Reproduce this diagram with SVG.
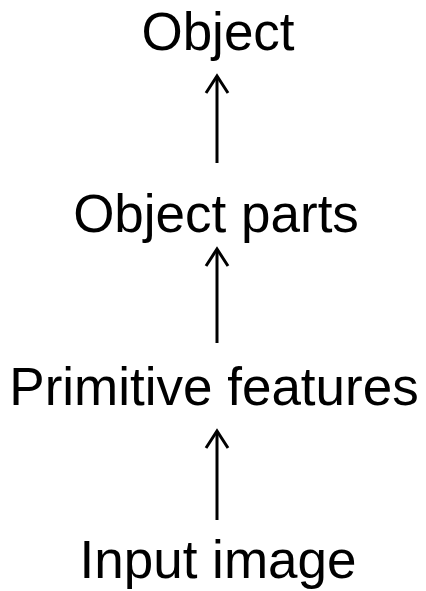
<svg xmlns="http://www.w3.org/2000/svg" width="426" height="591" viewBox="0 0 426 591">
  <style>
    .label { font-family: "Liberation Sans", Arial, sans-serif; font-size: 53px; fill: #000; text-anchor: middle; }
    .edge { stroke: #000; stroke-width: 3; fill: none; }
    .head { stroke: #000; stroke-width: 3; fill: none; stroke-linecap: butt; stroke-linejoin: miter; }
  </style>
  <rect width="426" height="591" fill="#fff"/>
  <g id="node-object"><text class="label" x="218" y="50">Object</text></g>
  <g id="node-object-parts"><text class="label" x="216" y="232">Object parts</text></g>
  <g id="node-primitive-features"><text class="label" x="214" y="405">Primitive features</text></g>
  <g id="node-input-image"><text class="label" x="218" y="578">Input image</text></g>
  <g id="connectors">
    <line class="edge" x1="217" y1="163" x2="217" y2="76"/>
    <polyline class="head" points="206,93 217,76 228,93"/>
    <line class="edge" x1="217" y1="343" x2="217" y2="249"/>
    <polyline class="head" points="206,266 217,249 228,266"/>
    <line class="edge" x1="217" y1="520" x2="217" y2="431"/>
    <polyline class="head" points="206,448 217,431 228,448"/>
  </g>
</svg>
